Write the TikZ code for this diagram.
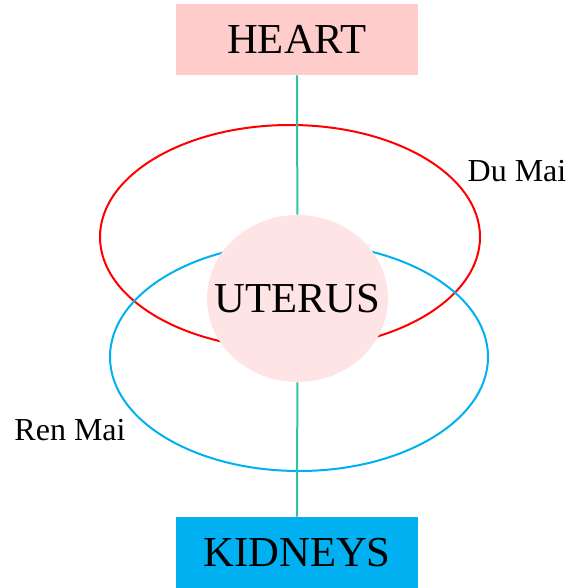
\documentclass[tikz,border=0pt]{standalone}
\usepackage{fontspec}
\setmainfont{Liberation Serif}
\usepackage{tikz}
\usetikzlibrary{shapes.geometric, positioning}

\definecolor{heartpink}{HTML}{FFCCCC}
\definecolor{kidneyblue}{HTML}{00B0F0}
\definecolor{uteruspink}{HTML}{FFE4E6}
\definecolor{linkgreen}{HTML}{2EC4A0}
\definecolor{dured}{HTML}{FF0000}
\definecolor{renblue}{HTML}{00B0F0}

\begin{document}
\begin{tikzpicture}[x=0.75pt, y=-0.75pt]
    \useasboundingbox (0,0) rectangle (572,588);
    % Channels
    \node[ellipse, draw=dured, line width=1.5pt, minimum width=285pt, minimum height=168pt, inner sep=0pt] (dumai) at (290,237) {};
    \node[ellipse, draw=renblue, line width=1.5pt, minimum width=283.5pt, minimum height=171pt, inner sep=0pt] (renmai) at (299,357) {};

    % Nodes
    \node[rectangle, fill=heartpink, minimum width=181.5pt, minimum height=53.25pt, font=\fontsize{32}{36}\selectfont] (heart) at (297,39.5) {HEART};
    \node[ellipse, fill=uteruspink, minimum width=135.75pt, minimum height=125.25pt, inner sep=0pt] (uterus) at (297.5,298.5) {};
    \node[font=\fontsize{32}{36}\selectfont] (uterustext) at (uterus.center) {UTERUS};
    \node[rectangle, fill=kidneyblue, minimum width=181.5pt, minimum height=53.25pt, font=\fontsize{32}{36}\selectfont] (kidneys) at (297,552.5) {KIDNEYS};

    % Labels
    \node[font=\fontsize{24}{28}\selectfont] (dulabel) at (517,171) {Du Mai};
    \node[font=\fontsize{24}{28}\selectfont] (renlabel) at (70,430) {Ren Mai};

    % Connections
    \draw[linkgreen, line width=1.5pt] (heart) -- (uterus);
    \draw[linkgreen, line width=1.5pt] (uterus) -- (kidneys);
\end{tikzpicture}
\end{document}
